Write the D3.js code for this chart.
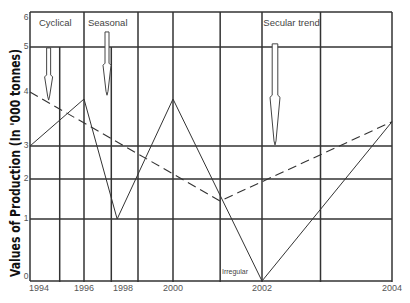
<!DOCTYPE html>
<head>
  <meta charset="utf-8">
  <script src="https://d3js.org/d3.v7.min.js"></script>
  <style>
    body { margin:0; background:#fff; }
    svg { display:block; }
  </style>
</head>
<body>
<script>
  var width = 410, height = 303;

  // solid series (the production curve)
  var years = [1994, 1996, 1997.7, 2000, 2002, 2004];
  var production = [3, 3.87, 1, 3.87, 0, 3.45];

  // dashed series (secular trend)
  var trendYears = [1994, 2001.06, 2004];
  var trendValues = [4, 1.45, 3.45];

  // ticks / grid
  var yearLabels = [1994, 1996, 1998, 2000, 2002, 2004];
  var valueLabels = [0, 1, 2, 3, 4, 5, 6];
  var gridValues = [0, 1, 2, 3, 5, 6];
  var gridYears = [1995.1, 1996, 1997.4, 1998.6, 2000, 2001.06, 2002, 2002.9, 2004];
  var shortGridYears = [1995.1, 1997.4];   // these start at the 5 line

  // annotations
  var noteText = ["Cyclical", "Seasonal", "Secular trend", "Irregular"];
  var noteYear = [1994.33, 1996.2, 2002.02, 2001.1];
  var noteValue = [5.66, 5.66, 5.66, 0.15];

  // arrows: x (year), top of shaft, start of head, tip (values)
  var arrowYear = [1994.69, 1997.18, 2002.2];
  var arrowTop = [4.98, 5.43, 5.09];
  var arrowHead = [4.38, 4.64, 3.94];
  var arrowTip = [3.85, 3.94, 3.02];

  // the hand drawn grid is uneven, so the scales are piecewise
  var x = d3.scaleLinear()
    .domain([1994, 1996, 1998, 2000, 2002, 2004])
    .range([30, 84, 123, 173, 262, 392]);

  var y = d3.scaleLinear()
    .domain([0, 1, 2, 3, 4, 5, 6])
    .range([281, 219, 179, 146, 92, 47, 12]);

  var svg = d3.select("body").append("svg")
    .attr("width", width)
    .attr("height", height);

  var gridColor = "#333";

  // horizontal grid
  svg.append("g").selectAll("line")
    .data(gridValues)
    .enter().append("line")
    .attr("x1", x(1994)).attr("x2", x(2004))
    .attr("y1", function(d){ return y(d); })
    .attr("y2", function(d){ return y(d); })
    .attr("stroke", gridColor)
    .attr("stroke-width", 1.5);

  // vertical grid
  svg.append("g").selectAll("line")
    .data(gridYears)
    .enter().append("line")
    .attr("x1", function(d){ return x(d); })
    .attr("x2", function(d){ return x(d); })
    .attr("y1", function(d){ return shortGridYears.indexOf(d) >= 0 ? y(5) : y(6); })
    .attr("y2", y(0) + 1)
    .attr("stroke", gridColor)
    .attr("stroke-width", 1.5);

  // left axis line
  svg.append("line")
    .attr("x1", x(1994)).attr("x2", x(1994))
    .attr("y1", y(6)).attr("y2", y(0))
    .attr("stroke", gridColor)
    .attr("stroke-width", 1.5);

  // value labels
  svg.append("g").selectAll("text")
    .data(valueLabels)
    .enter().append("text")
    .attr("x", x(1994) - 1.5)
    .attr("y", function(d){ return Math.max(18, Math.min(277, y(d))); })
    .attr("text-anchor", "end")
    .attr("dominant-baseline", "middle")
    .attr("font-family", "Liberation Sans, Arial, sans-serif")
    .attr("font-size", 8.5)
    .attr("fill", "#555")
    .text(function(d){ return d; });

  // year labels
  svg.append("g").selectAll("text")
    .data(yearLabels)
    .enter().append("text")
    .attr("x", function(d, i){ return i == 0 ? x(d) - 1 : x(d); })
    .attr("y", 289)
    .attr("text-anchor", function(d, i){ return i == 0 ? "start" : "middle"; })
    .attr("dominant-baseline", "middle")
    .attr("font-family", "Liberation Sans, Arial, sans-serif")
    .attr("font-size", 9)
    .attr("fill", "#555")
    .text(function(d){ return d; });

  // y axis title
  svg.append("text")
    .attr("transform", "translate(20,163) rotate(-90)")
    .attr("text-anchor", "middle")
    .attr("font-family", "Liberation Sans Narrow, DejaVu Sans Condensed, sans-serif")
    .attr("font-weight", "bold")
    .attr("font-size", 14)
    .attr("textLength", 228)
    .attr("lengthAdjust", "spacingAndGlyphs")
    .attr("fill", "#111")
    .text("Values of Production (In '000 tonnes)");

  // lines
  var line = d3.line()
    .x(function(d){ return x(d[0]); })
    .y(function(d){ return y(d[1]); });

  svg.append("path")
    .datum(d3.zip(trendYears, trendValues))
    .attr("d", line)
    .attr("fill", "none")
    .attr("stroke", "#333")
    .attr("stroke-width", 1.1)
    .attr("stroke-dasharray", "9,5");

  svg.append("path")
    .datum(d3.zip(years, production))
    .attr("d", line)
    .attr("fill", "none")
    .attr("stroke", "#333")
    .attr("stroke-width", 1);

  // annotation text
  svg.append("g").selectAll("text")
    .data(noteText)
    .enter().append("text")
    .attr("x", function(d, i){ return x(noteYear[i]); })
    .attr("y", function(d, i){ return y(noteValue[i]); })
    .attr("dominant-baseline", "middle")
    .attr("font-family", "Liberation Sans, Arial, sans-serif")
    .attr("font-size", function(d, i){ return i == 3 ? 7 : 9.5; })
    .attr("fill", "#444")
    .text(function(d){ return d; });

  // hollow arrows
  function arrowPath(i) {
    var cx = x(arrowYear[i]);
    var t = y(arrowTop[i]), h = y(arrowHead[i]), tip = y(arrowTip[i]);
    var sw = i == 2 ? 2.8 : 2, hw = i == 2 ? 5 : 4;
    return "M" + (cx - sw) + "," + t +
      "L" + (cx + sw) + "," + t +
      "L" + (cx + sw) + "," + h +
      "L" + (cx + hw) + "," + (h + 2) +
      "L" + (cx + 1) + "," + (tip - 4) +
      "L" + cx + "," + tip +
      "L" + (cx - 1) + "," + (tip - 4) +
      "L" + (cx - hw) + "," + (h + 2) +
      "L" + (cx - sw) + "," + h + "Z";
  }

  svg.append("g").selectAll("path")
    .data(arrowYear)
    .enter().append("path")
    .attr("d", function(d, i){ return arrowPath(i); })
    .attr("fill", "#fff")
    .attr("stroke", "#444")
    .attr("stroke-width", 1);
</script>
</body>
